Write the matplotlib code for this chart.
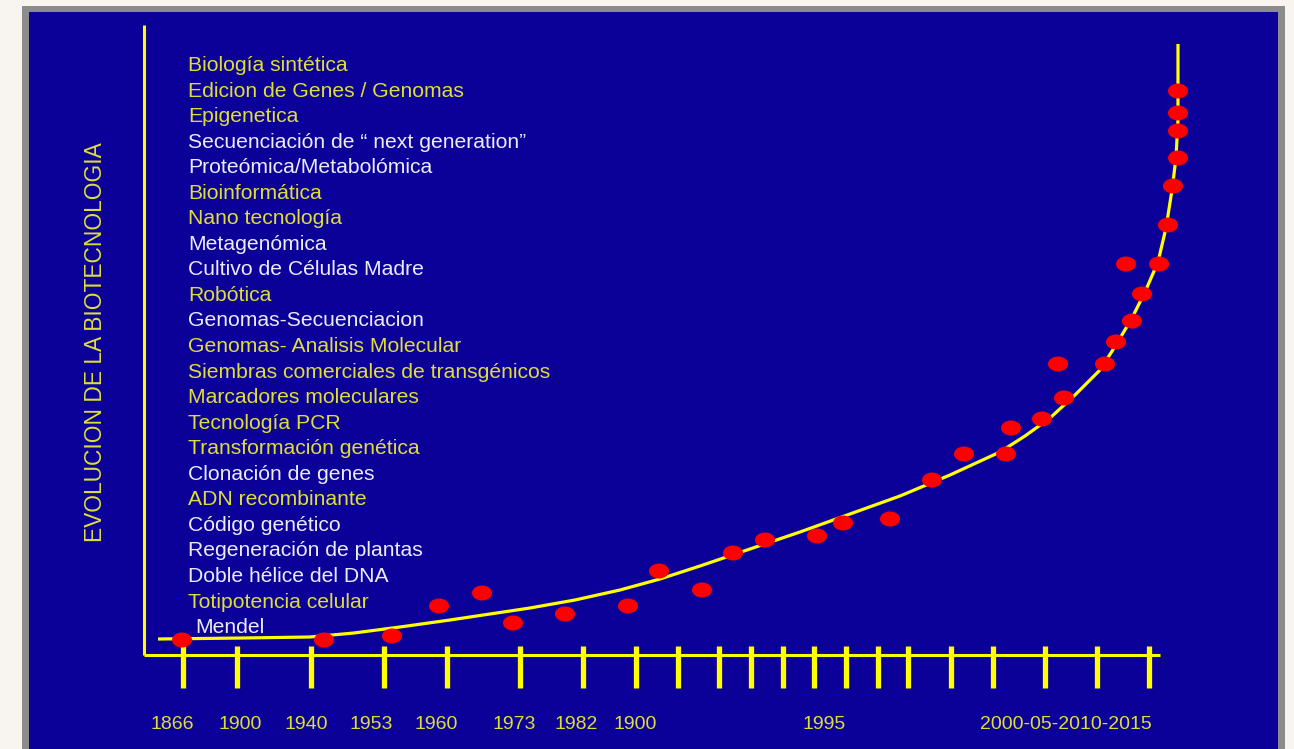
import matplotlib
matplotlib.use("Agg")
import matplotlib.pyplot as plt
from matplotlib import font_manager
from matplotlib.patches import Rectangle, Ellipse

# --- data (units: pixels along the axes, origin at the axis corner) ---
milestones = [
    "Biología sintética", "Edicion de Genes / Genomas", "Epigenetica",
    "Secuenciación de \u201c next generation\u201d", "Proteómica/Metabolómica",
    "Bioinformática", "Nano tecnología", "Metagenómica",
    "Cultivo de Células Madre", "Robótica", "Genomas-Secuenciacion",
    "Genomas- Analisis Molecular", "Siembras comerciales de transgénicos",
    "Marcadores moleculares", "Tecnología PCR", "Transformación genética",
    "Clonación de genes", "ADN recombinante", "Código genético",
    "Regeneración de plantas", "Doble hélice del DNA", "Totipotencia celular",
    "Mendel",
]
milestone_is_yellow = [1, 1, 1, 0, 0, 1, 1, 0, 0, 1, 0, 1, 1, 1, 1, 1,
                       0, 1, 0, 0, 0, 1, 0]

dot_x = [38, 180, 248, 295, 338, 369, 421, 484, 515, 558, 589, 621, 673,
         699, 746, 788, 820, 862, 867, 898, 920, 914, 961, 972, 988, 998,
         982, 1015, 1024, 1029, 1034, 1034, 1034, 1034]
dot_y = [15, 15, 19, 49, 62, 32, 41, 49, 84, 65, 102, 115, 119, 132, 136,
         175, 201, 201, 227, 236, 257, 291, 291, 313, 334, 361, 391, 391,
         430, 469, 497, 524, 542, 564]

curve_x = [14, 100, 166, 210, 256, 306, 346, 386, 431, 476, 516, 556, 606,
           656, 706, 756, 806, 856, 881, 906, 931, 956, 972, 988, 1001,
           1014, 1022, 1028, 1032, 1034, 1034]
curve_y = [16, 17, 18, 22, 28, 35, 41, 47, 55, 65, 76, 89, 106, 123, 141,
           159, 180, 203, 219, 237, 260, 285, 310, 337, 363, 393, 427, 465,
           497, 535, 611]

tick_x = [39, 93, 167, 240, 303, 376, 439, 492, 534, 575, 607, 639, 670,
          702, 734, 764, 807, 849, 901, 953, 1005]

year_labels = ["1866", "1900", "1940", "1953", "1960", "1973", "1982",
               "1900", "1995", "2000-05-2010-2015"]
year_label_x = [28, 96, 162, 227, 292, 370, 432, 491, 680, 922]

# --- style ---
BG = "#f8f4f0"
BORDER = "#8c8c8c"
BLUE = "#0b0097"
YELLOW = "#ffff00"
TXT_YELLOW = "#dede3a"
TXT_WHITE = "#ececff"

names = {f.name for f in font_manager.fontManager.ttflist}
plt.rcParams["font.family"] = ["Liberation Sans", "DejaVu Sans"]
narrow = "Liberation Sans Narrow" in names

W, H = 1294, 749
OX, OY = 144, 655  # pixel position of the axis corner

fig = plt.figure(figsize=(W / 100, H / 100), dpi=100, facecolor=BG)
ax = fig.add_axes([0, 0, 1, 1])
ax.set_xlim(-OX, W - OX)
ax.set_ylim(OY - H, OY)
ax.axis("off")

# panel frame
ax.add_patch(Rectangle((22 - OX, OY - 770), 1263, 770 - 6,
                       facecolor=BORDER, edgecolor="none"))
ax.add_patch(Rectangle((29 - OX, OY - 770), 1249, 770 - 12,
                       facecolor=BLUE, edgecolor="none"))

# axes lines
ax.plot([0, 0], [0, 630], color=YELLOW, lw=2.2, solid_capstyle="butt")
ax.plot([0, 1016], [0, 0], color=YELLOW, lw=2.2, solid_capstyle="butt")
ax.vlines(tick_x, -33, 9, color=YELLOW, lw=3.8)

# trend curve
ax.plot(curve_x, curve_y, color=YELLOW, lw=2.3, solid_capstyle="butt",
        solid_joinstyle="round", zorder=3)

# milestone dots
for x, y in zip(dot_x, dot_y):
    ax.add_patch(Ellipse((x, y), 20, 15, facecolor="#ff0000",
                         edgecolor="none", zorder=4))

# milestone labels
for i, (name, yel) in enumerate(zip(milestones, milestone_is_yellow)):
    x = 51 if name == "Mendel" else 44
    y = OY - (71 + i * 25.55)
    ax.text(x, y, name, color=TXT_YELLOW if yel else TXT_WHITE,
            fontsize=15.2, va="baseline", ha="left", zorder=5)

# year labels
for lab, x in zip(year_labels, year_label_x):
    ax.text(x, OY - 729, lab, color=TXT_YELLOW, fontsize=14,
            va="baseline", ha="center")

# vertical title
title = "EVOLUCION DE LA BIOTECNOLOGIA"
if narrow:
    ax.text(96 - OX, OY - 342, title, family="Liberation Sans Narrow",
            fontsize=20, rotation=90, color=TXT_YELLOW,
            ha="center", va="center")
else:
    ax.text(96 - OX, OY - 342, title, fontsize=16.4, rotation=90,
            color=TXT_YELLOW, ha="center", va="center")

fig.savefig("out.png", dpi=100, facecolor=BG)
